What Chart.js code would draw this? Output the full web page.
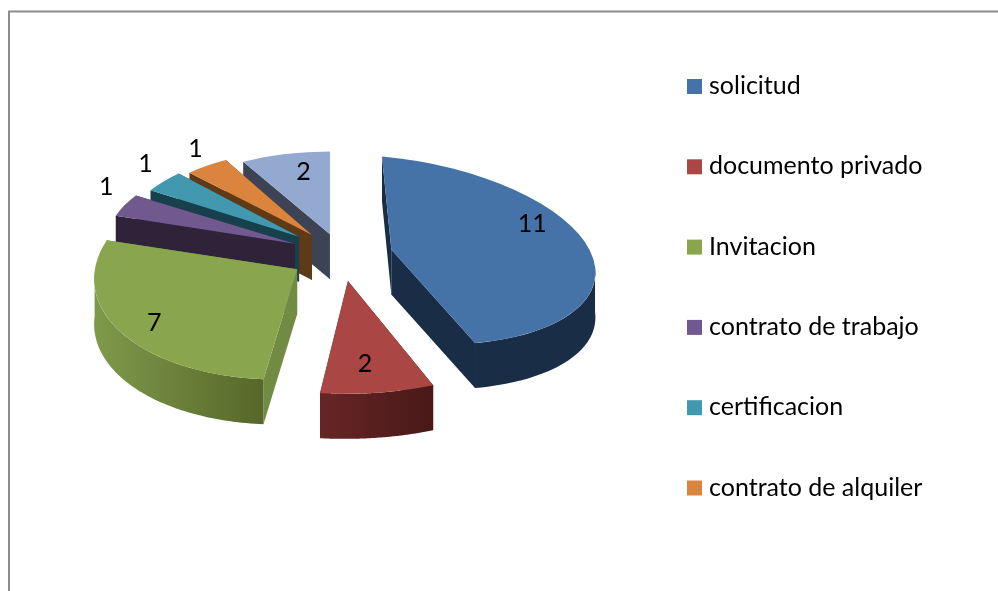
<!DOCTYPE html>
<html>
<head>
<meta charset="utf-8">
<style>
  html, body { margin: 0; background: #fff; overflow: hidden; }
  canvas { display: block; }
</style>
<script src="https://cdn.jsdelivr.net/npm/chart.js@4"></script>
</head>
<body>
<canvas id="myChart" width="998" height="591"></canvas>
<script>
// the seventh slice has no visible legend entry in the reference
const categories = ["solicitud", "documento privado", "Invitacion", "contrato de trabajo", "certificacion", "contrato de alquiler", ""];
const values = [11, 2, 7, 1, 1, 1, 2];

const topColors = ["#4572a7", "#aa4644", "#89a54e", "#71588f", "#4198af", "#db843d", "#93a9cf"];
const cutColors = ["#1a2d46", "#4e1b1b", "#728b42", "#2e2338", "#17404d", "#5f3a17", "#3b4354"];
const wallLeft = ["#1a2d46", "#662626", "#7f9a4b", "#2e2338", "#17404d", "#5f3a17", "#3b4354"];
const wallRight = ["#1a2d46", "#4a1818", "#566729", "#2e2338", "#17404d", "#5f3a17", "#3b4354"];

const FONT = "25px Lato, sans-serif";
const CX = 341, CY = 254;
const DEPTH = 45;

// fake perspective, one affine per slice: scale, shear, explode distance, label nudge
const views = [
  { sx: 0.985, sy: 0.45, shx: 0.045, shy: 0.09, explode: 52, nx: -8, ny: -26 },
  { sx: 1.108, sy: 0.545, shx: 0.004, shy: -0.009, explode: 50, nx: -5, ny: -1 },
  { sx: 0.98, sy: 0.533, shx: -0.04, shy: -0.026, explode: 53, nx: -11, ny: 6 },
  { sx: 0.91, sy: 0.435, shx: 0, shy: 0, explode: 56, nx: -8, ny: -16 },
  { sx: 0.85, sy: 0.42, shx: 0, shy: 0, explode: 64, nx: -10, ny: -14 },
  { sx: 0.865, sy: 0.413, shx: 0, shy: 0, explode: 57, nx: -5, ny: -13 },
  { sx: 0.87, sy: 0.4, shx: 0, shy: 0, explode: 51, nx: 7, ny: -2 },
];

function project(arc, i) {
  const v = views[i];
  const mid = (arc.startAngle + arc.endAngle) / 2;
  const x = CX + v.sx * v.explode * Math.cos(mid);
  const y = CY + v.sy * v.explode * Math.sin(mid);
  return {
    mid, x, y,
    at: (r, t) => {
      const a = r * Math.cos(t), b = r * Math.sin(t);
      return [x + v.sx * a + v.shx * b, y + v.shy * a + v.sy * b];
    },
  };
}

function drawWalls(ctx, arc, p, i) {
  const r = arc.outerRadius;

  ctx.fillStyle = cutColors[i];
  [arc.startAngle, arc.endAngle].forEach((t) => {
    const e = p.at(r, t);
    ctx.beginPath();
    ctx.moveTo(p.x, p.y);
    ctx.lineTo(e[0], e[1]);
    ctx.lineTo(e[0], e[1] + DEPTH);
    ctx.lineTo(p.x, p.y + DEPTH);
    ctx.closePath();
    ctx.fill();
  });

  const pts = [];
  for (let s = 0; s <= 80; s++) {
    const t = arc.startAngle + (arc.endAngle - arc.startAngle) * s / 80;
    if (Math.sin(t) >= -0.05) pts.push(p.at(r, t));
  }
  if (pts.length < 2) return;
  const xs = pts.map((q) => q[0]);
  const grad = ctx.createLinearGradient(Math.min(...xs), 0, Math.max(...xs), 0);
  grad.addColorStop(0, wallLeft[i]);
  grad.addColorStop(1, wallRight[i]);
  ctx.fillStyle = grad;
  ctx.beginPath();
  pts.forEach((q, k) => (k ? ctx.lineTo(q[0], q[1]) : ctx.moveTo(q[0], q[1])));
  pts.slice().reverse().forEach((q) => ctx.lineTo(q[0], q[1] + DEPTH));
  ctx.closePath();
  ctx.fill();
}

const pie3d = {
  id: "pie3d",
  beforeDraw(chart) {
    const ctx = chart.ctx;
    ctx.save();
    ctx.strokeStyle = "#8c8c8c";
    ctx.lineWidth = 2;
    ctx.beginPath();
    ctx.moveTo(9, 591);
    ctx.lineTo(9, 11.5);
    ctx.lineTo(998, 11.5);
    ctx.stroke();
    ctx.restore();
  },
  beforeDatasetsDraw(chart) {
    const ctx = chart.ctx;
    const arcs = chart.getDatasetMeta(0).data;
    const order = arcs.map((arc, i) => i).sort((a, b) => project(arcs[a], a).y - project(arcs[b], b).y);
    order.forEach((i) => {
      const arc = arcs[i];
      const p = project(arc, i);
      const v = views[i];
      drawWalls(ctx, arc, p, i);
      ctx.save();
      ctx.transform(v.sx, v.shy, v.shx, v.sy, p.x, p.y);
      ctx.translate(-arc.x, -arc.y);
      arc.draw(ctx);
      ctx.restore();
    });
    return false;
  },
  afterDraw(chart) {
    const ctx = chart.ctx;
    const arcs = chart.getDatasetMeta(0).data;
    ctx.save();
    ctx.font = FONT;
    ctx.fillStyle = "#000";
    ctx.textBaseline = "middle";

    ctx.textAlign = "center";
    arcs.forEach((arc, i) => {
      const p = project(arc, i);
      const q = p.at(arc.outerRadius * (values[i] > 1 ? 0.75 : 1.06), p.mid);
      ctx.fillText(values[i], q[0] + views[i].nx, q[1] + views[i].ny);
    });

    ctx.textAlign = "left";
    categories.forEach((name, i) => {
      if (!name) return;
      const y = 86 + i * 80.3;
      ctx.fillStyle = topColors[i];
      ctx.fillRect(687, y - 7, 15, 15);
      ctx.fillStyle = "#000";
      ctx.fillText(name, 709, y);
    });
    ctx.restore();
  },
};

new Chart("myChart", {
  type: "pie",
  data: {
    labels: categories,
    datasets: [
      {
        data: values,
        backgroundColor: topColors,
        borderWidth: 0,
      },
    ],
  },
  options: {
    responsive: false,
    animation: false,
    radius: 207,
    plugins: {
      legend: { display: false },
      tooltip: { enabled: false },
    },
  },
  plugins: [pie3d],
});
</script>
</body>
</html>
